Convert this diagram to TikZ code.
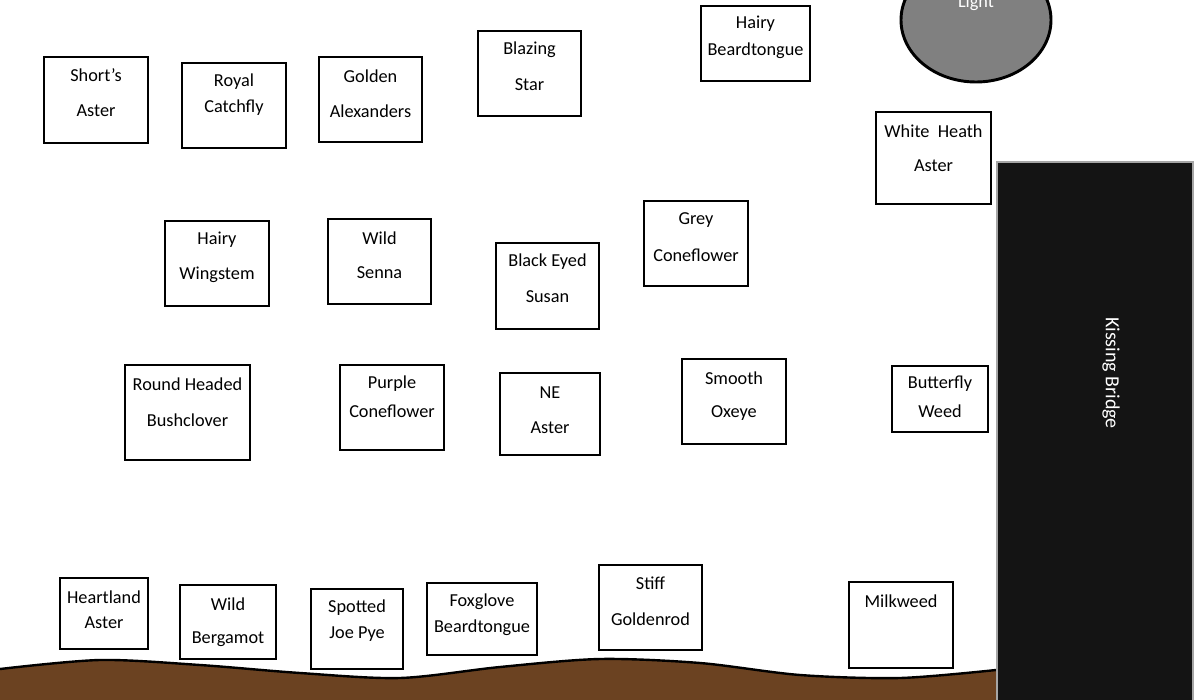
\documentclass[tikz,border=0pt]{standalone}
\usepackage{fontspec}
\setmainfont{Carlito}
\usetikzlibrary{shapes.geometric}
\definecolor{soil}{RGB}{107,66,33}
\definecolor{bridgec}{RGB}{20,20,20}
\definecolor{lampc}{RGB}{128,128,128}
\tikzset{
  box/.style={draw=black, line width=2.2pt, fill=white, anchor=north west, inner sep=0pt, outer sep=0pt},
  txt/.style={font=\fontsize{13.7}{16}\selectfont, inner sep=0pt},
}
\newcommand{\plant}[9]{%
  \node[box, minimum width={(#4-#2)*0.75pt}, minimum height={(#5-#3)*0.75pt}] (#1) at (#2,#3) {};
  \node[txt] (#1-a) at ({(#2+#4)/2},#7) {#6};
  \node[txt] (#1-b) at ({(#2+#4)/2},#9) {#8};
}
\begin{document}
\begin{tikzpicture}[x=0.75pt,y=-0.75pt]
\useasboundingbox (0,0) rectangle (1200,700);
% ground
\fill[soil] (0,702) -- plot[smooth] coordinates {(0,669) (100,660) (200,665) (300,673) (400,678) (500,667) (600,659) (700,663) (800,675) (900,678) (996,670)} -- (996,702) -- cycle;
\draw[line width=1.8pt] plot[smooth] coordinates {(0,669) (100,660) (200,665) (300,673) (400,678) (500,667) (600,659) (700,663) (800,675) (900,678) (996,670)};
% bridge
\node[draw=gray!70, line width=1pt, fill=bridgec, anchor=north west, inner sep=0pt, outer sep=0pt, minimum width={196*0.75pt}, minimum height={545*0.75pt}] (bridge) at (997,162) {};
\node[txt, text=white, font=\fontsize{15}{17}\selectfont, rotate=-90] (bridge-t) at (1111,373) {Kissing Bridge};
% light
\node[ellipse, draw=black, line width=2.2pt, fill=lampc, inner sep=0pt, minimum width={150*0.75pt}, minimum height={124*0.75pt}] (lamp) at (976,20) {};
\node[txt, text=white] (lamp-t) at (976,3) {Light};
% plants
\plant{sa}{44}{57}{148}{143}{Short’s}{75}{Aster}{111}
\plant{rc}{182}{63}{286}{148}{Royal}{82}{Catchfly}{108}
\plant{ga}{319}{57}{422}{142}{Golden}{76}{Alexanders}{111}
\plant{bs}{478}{31}{581}{116}{Blazing}{50}{Star}{85}
\plant{hb}{701}{6}{810}{81}{Hairy}{24}{Beardtongue}{51}
\plant{wh}{876}{112}{991}{204}{White\ \ Heath}{131}{Aster}{166}
\plant{hw}{165}{221}{269}{306}{Hairy}{240}{Wingstem}{275}
\plant{ws}{328}{219}{431}{304}{Wild}{238}{Senna}{273}
\plant{be}{496}{243}{599}{329}{Black Eyed}{262}{Susan}{297}
\plant{gc}{644}{201}{748}{286}{Grey}{220}{Coneflower}{255}
\plant{rh}{125}{365}{250}{460}{Round Headed}{384}{Bushclover}{420}
\plant{pc}{340}{365}{444}{450}{Purple}{384}{Coneflower}{411}
\plant{ne}{500}{373}{600}{455}{NE}{393}{Aster}{428}
\plant{so}{682}{359}{786}{444}{Smooth}{378}{Oxeye}{413}
\plant{bw}{892}{366}{988}{432}{Butterfly}{384}{Weed}{411}
\plant{ha}{60}{578}{148}{649}{Heartland}{597}{Aster}{623}
\plant{wb}{180}{585}{276}{659}{Wild}{604}{Bergamot}{639}
\plant{sj}{311}{589}{403}{669}{Spotted}{608}{Joe Pye}{634}
\plant{fb}{427}{583}{537}{655}{Foxglove}{602}{Beardtongue}{628}
\plant{sg}{599}{565}{702}{650}{Stiff}{583}{Goldenrod}{619}
\node[box, minimum width={104*0.75pt}, minimum height={86*0.75pt}] (mw) at (849,582) {};
\node[txt] (mw-a) at (901,601) {Milkweed};
\end{tikzpicture}
\end{document}
